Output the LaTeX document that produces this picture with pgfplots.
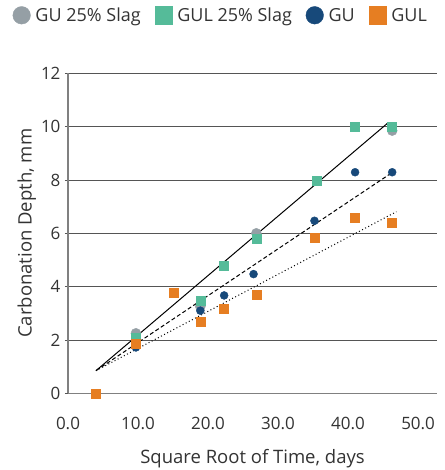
\documentclass[border=0pt]{standalone}
\usepackage{fontspec}
\setmainfont{Open Sans}
\usepackage{pgfplots}
\pgfplotsset{compat=1.18}
\definecolor{cgray}{HTML}{959FA5}
\definecolor{cgreen}{HTML}{55BB99}
\definecolor{cblue}{HTML}{17497A}
\definecolor{corange}{HTML}{E67E22}
\definecolor{txt}{HTML}{333333}
\definecolor{gridc}{HTML}{555555}
\definecolor{axc}{HTML}{808080}
\begin{document}
\begin{tikzpicture}
\begin{axis}[
  scale only axis, width=369pt, height=320pt,
  xmin=0, xmax=52.7, ymin=0, ymax=12,
  xtick={0,10,...,50}, ytick={0,2,...,12},
  xticklabel style={/pgf/number format/fixed, /pgf/number format/fixed zerofill, /pgf/number format/precision=1},
  /pgf/number format/assume math mode=true,
  ymajorgrids, grid style={draw=gridc, line width=0.9pt},
  axis lines*=left,
  axis line style={draw=axc, line width=1.3pt},
  xtick style={draw=none},
  ytick style={draw=gridc, line width=0.9pt},
  major tick length=3pt, tick align=outside,
  tick label style={font=\fontsize{17}{20}\selectfont, text=txt},
  xticklabel style={yshift=-17pt},
  yticklabel style={xshift=-1pt},
  label style={font=\fontsize{18.5}{22}\selectfont, text=txt},
  xlabel={Square Root of Time, days},
  ylabel={Carbonation Depth, mm},
  xlabel style={yshift=-13pt},
  ylabel style={yshift=-2pt},
  clip=false,
  legend columns=4,
  legend image code/.code={\draw[#1, mark size=8.8pt] plot coordinates {(0pt,0pt)};},
  legend style={at={(-0.1500,1)}, anchor=west, yshift=58pt, draw=none, fill=none,
    inner sep=0pt, font=\fontsize{18}{22}\selectfont, text=txt,
    /tikz/every odd column/.append style={column sep=3pt},
    /tikz/every even column/.append style={column sep=12pt}},
  legend cell align=left,
]
\addplot[only marks, mark=*, mark size=5pt, draw=cgray, fill=cgray] coordinates {
 (9.7,2.25) (18.9,3.25) (26.9,6.0) (46.3,9.85)};
\addlegendentry{GU 25\% Slag}
\addplot[only marks, mark=square*, mark size=4.5pt, draw=cgreen, fill=cgreen] coordinates {
 (9.7,2.1) (18.9,3.47) (22.3,4.8) (26.9,5.8) (35.5,7.97) (41.0,10.0) (46.3,10.0)};
\addlegendentry{GUL 25\% Slag}
\addplot[only marks, mark=*, mark size=4pt, draw=cblue, fill=cblue] coordinates {
 (9.7,1.72) (18.9,3.1) (22.3,3.67) (26.5,4.47) (35.2,6.47) (41.0,8.29) (46.3,8.29)};
\addlegendentry{GU}
\addplot[only marks, mark=square*, mark size=4.5pt, draw=corange, fill=corange] coordinates {
 (4.0,0) (9.7,1.87) (15.1,3.77) (18.9,2.68) (22.3,3.17) (26.9,3.7) (35.2,5.85) (41.0,6.58) (46.3,6.4)};
\addlegendentry{GUL}
\addplot[forget plot, black, line width=1pt] coordinates {(4.0,0.85) (45.6,10.12)};
\addplot[forget plot, black, line width=1pt, dash pattern=on 4pt off 2.5pt] coordinates {(4.0,0.85) (46.7,8.35)};
\addplot[forget plot, black, line width=1pt, dash pattern=on 1pt off 2.5pt] coordinates {(4.0,0.85) (46.9,6.81)};
\end{axis}
\pgfresetboundingbox
\path ([shift={(-68pt,-76.7pt)}]current axis.south west) rectangle ([shift={(7pt,73.3pt)}]current axis.north east);
\end{tikzpicture}
\end{document}
